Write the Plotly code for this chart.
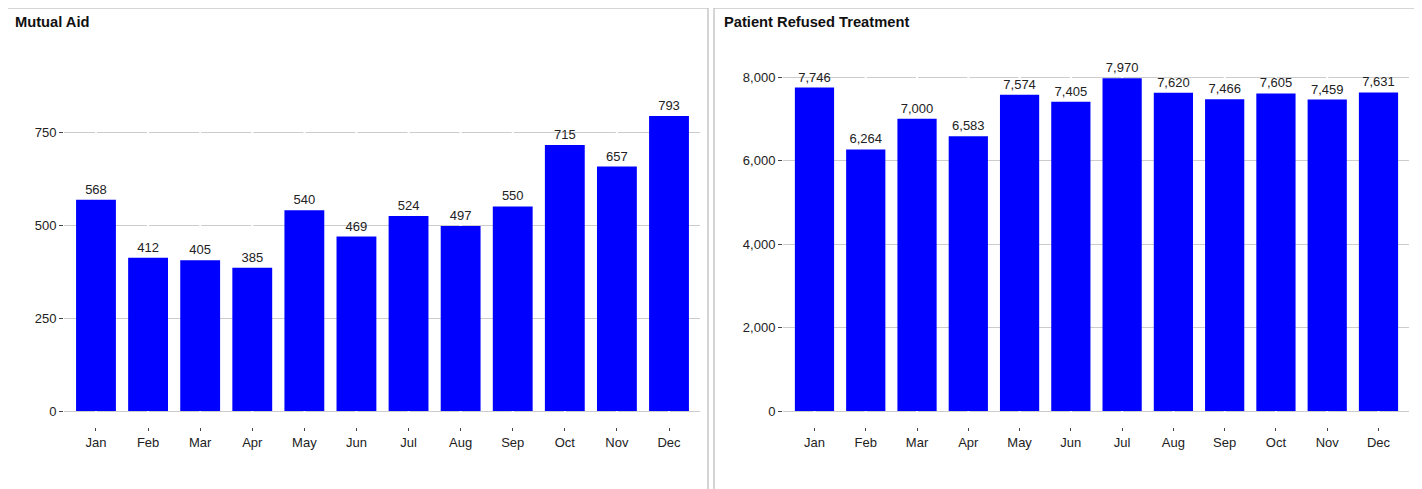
import plotly.graph_objects as go
from plotly.subplots import make_subplots

meses = ["Jan", "Feb", "Mar", "Apr", "May", "Jun", "Jul", "Aug", "Sep", "Oct", "Nov", "Dec"]
mutual_aid = [568, 412, 405, 385, 540, 469, 524, 497, 550, 715, 657, 793]
refused = [7746, 6264, 7000, 6583, 7574, 7405, 7970, 7620, 7466, 7605, 7459, 7631]
titulos = ["Mutual Aid", "Patient Refused Treatment"]
ticks_mutual = [0, 250, 500, 750]
ticks_refused = [0, 2000, 4000, 6000, 8000]

W, H = 1422, 489
OFF = 8  # margem do body da pagina
fonte = "Liberation Sans, Arial, sans-serif"
cinza_txt = "#222"


def px(x):
    return (x - OFF) / W


def py(y):
    return (H - (y - OFF)) / H


fig = make_subplots(rows=1, cols=2)

for i, valores in enumerate([mutual_aid, refused]):
    fig.add_trace(go.Bar(
        x=meses, y=valores,
        marker=dict(color="#0000FF", line=dict(width=0)),
        texttemplate="%{y:,}",
        textposition="outside",
        textfont=dict(size=13, color=cinza_txt, family=fonte),
        cliponaxis=False,
        showlegend=False,
    ), row=1, col=i + 1)

# posicao das areas de plot (px na tela)
y_top, y_bot = 45, 427
dom_y = [py(y_bot), py(y_top)]
range_mutual = [-43.0, 983.9]
range_refused = [-383.2, 8766.5]

eixo_x = dict(
    showgrid=False, zeroline=False, showline=False,
    ticks="outside", ticklen=3, tickwidth=1, tickcolor="#444",
    tickfont=dict(size=13, color=cinza_txt, family=fonte),
    range=[-0.614, 11.595],
)
eixo_y = dict(
    showgrid=True, gridcolor="#cccccc", gridwidth=1,
    zeroline=False, showline=False,
    ticks="outside", ticklen=4, tickwidth=1, tickcolor="#444",
    tickfont=dict(size=13, color=cinza_txt, family=fonte),
    tickformat=",",
)

fig.update_layout(
    xaxis=dict(eixo_x, domain=[px(64), px(700)]),
    xaxis2=dict(eixo_x, domain=[px(783), px(1409)]),
    yaxis=dict(eixo_y, domain=dom_y, range=range_mutual, tickvals=ticks_mutual),
    yaxis2=dict(eixo_y, domain=dom_y, range=range_refused, tickvals=ticks_refused),
    bargap=0.235,
    width=W, height=H,
    margin=dict(l=0, r=0, t=0, b=0),
    plot_bgcolor="white", paper_bgcolor="white",
    font=dict(family=fonte, color=cinza_txt),
)

# bordas dos paineis
for x0, x1 in [(7, 708), (714, 1417)]:
    fig.add_shape(type="rect", xref="paper", yref="paper",
                  x0=px(x0), x1=px(x1), y0=-0.1, y1=py(8),
                  line=dict(color="#c8c8c8", width=1.5), fillcolor="rgba(0,0,0,0)",
                  layer="below")

# titulos
for x0, t in zip([13, 722], titulos):
    fig.add_annotation(text="<b>%s</b>" % t, xref="paper", yref="paper",
                       x=px(x0), y=py(22), xanchor="left", yanchor="middle",
                       showarrow=False, font=dict(size=14.7, color="#111", family=fonte))

# linhas brancas verticais no centro das categorias (cortam a grade)
for ax, rg in [("", range_mutual), ("2", range_refused)]:
    for m in meses:
        fig.add_shape(type="line", xref="x" + ax, yref="y" + ax,
                      x0=m, x1=m, y0=rg[0], y1=rg[1],
                      line=dict(color="white", width=2), layer="between")

fig.write_html("out.html")
